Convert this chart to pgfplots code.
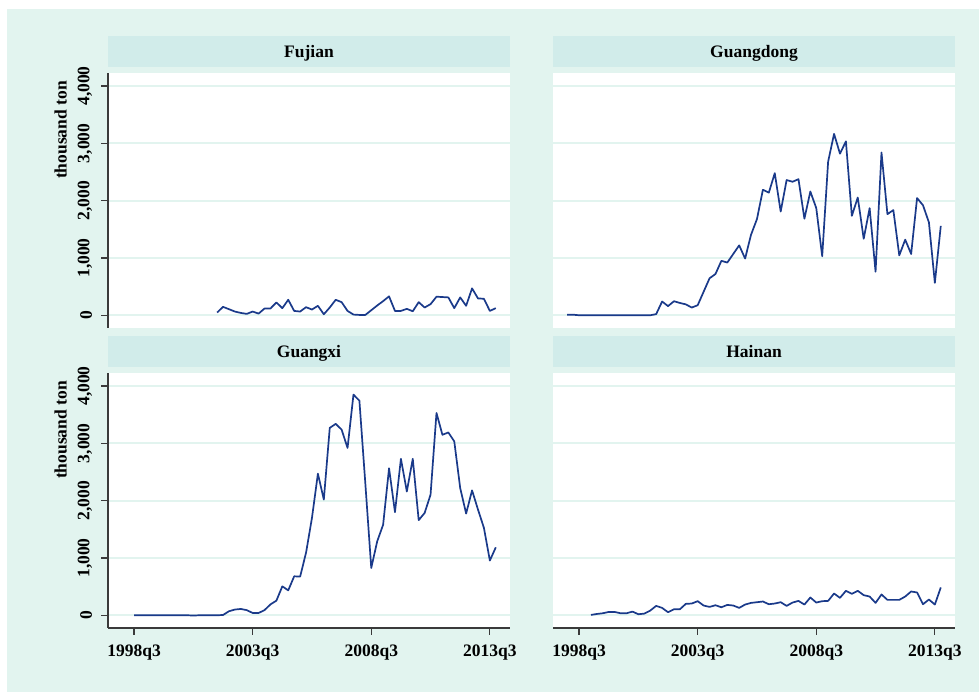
\documentclass[border=0pt]{standalone}
\usepackage{fontspec}
\setmainfont{Liberation Serif}
\usepackage{pgfplots}
\pgfplotsset{compat=1.18}
\definecolor{bgmint}{HTML}{E2F4EF}
\definecolor{stripc}{HTML}{D1ECEA}
\definecolor{gridc}{HTML}{E2F4EF}
\definecolor{axc}{HTML}{3A3A3A}
\definecolor{linec}{HTML}{1A3A8A}
\newcommand{\lbl}{\fontsize{17.5}{20}\selectfont\bfseries}
\tikzset{serie/.style={draw=linec, line width=1.7pt, line join=round, mark=none}}
\pgfplotsset{
  panel/.style={
    scale only axis, width=402pt, height=255pt,
    xmin=-4.4, xmax=63.4, ymin=-222, ymax=4228,
    axis background/.style={fill=white},
    ytick={0,1000,2000,3000,4000},
    xtick={0,20,40,60},
    xticklabels={1998q3,2003q3,2008q3,2013q3},
    /pgf/number format/fixed,
    /pgf/number format/1000 sep={,},
    /pgf/number format/assume math mode=true,
    ymajorgrids,
    major grid style={color=gridc, line width=1.8pt},
    tick align=outside, major tick length=7pt,
    tick style={color=axc, line width=1.2pt},
    separate axis lines,
    axis x line*=bottom, axis y line*=left,
    x axis line style={-, color=axc, line width=1.4pt},
    y axis line style={-, color=axc, line width=1.4pt},
    tick label style={font=\lbl},
    yticklabel style={rotate=90, anchor=south, inner sep=0pt, outer sep=9pt},
    xticklabel style={anchor=north, inner sep=0pt, outer sep=10pt},
    title style={at={(0.5,1)}, anchor=south, yshift=0pt, fill=stripc,
      minimum width=402pt, minimum height=31pt, inner sep=0pt,
      text height=12pt, text depth=0pt, font=\lbl},
    ylabel style={at={(axis description cs:-0.1177,0.776)}, anchor=center, font=\lbl},
  },
  toprow/.style={xtick=\empty, x axis line style={draw=none}},
  rightcol/.style={yticklabels={}, ytick style={draw=none}, y axis line style={draw=none}},
}
\begin{document}
\begin{tikzpicture}
\fill[white] (0pt,0pt) rectangle (979pt,692pt);
\path[use as bounding box] (0pt,0pt) rectangle (979pt,692pt);
\fill[bgmint] (7pt,0pt) rectangle (979pt,683pt);

% Fujian
\begin{axis}[panel, toprow, at={(108pt,364pt)}, anchor=south west,
  title={Fujian}, ylabel={thousand ton}]
\addplot[serie] coordinates {
(14,47) (15,147) (16,106) (17,65) (18,41) (19,24) (20,65) (21,29) (22,118) (23,118)
(24,224) (25,124) (26,270) (27,76) (28,65) (29,141) (30,100) (31,165) (32,18) (33,135)
(34,270) (35,229) (36,76) (37,12) (38,6) (39,6) (40,88) (41,170) (42,247) (43,330)
(44,76) (45,76) (46,112) (47,70) (48,229) (49,135) (50,194) (51,324) (52,318) (53,312)
(54,124) (55,312) (56,165) (57,470) (58,294) (59,288) (60,76) (61,124)};
\end{axis}

% Guangdong
\begin{axis}[panel, toprow, rightcol, at={(553pt,364pt)}, anchor=south west,
  title={Guangdong}]
\addplot[serie] coordinates {
(-2,10) (-1,10) (0,0) (1,0) (2,0) (3,0) (4,0) (5,0) (6,0) (7,0) (8,0) (9,0) (10,0) (11,0) (12,0)
(13,20) (14,240) (15,160) (16,245) (17,215) (18,190) (19,135) (20,175) (21,410) (22,645)
(23,720) (24,950) (25,920) (26,1070) (27,1220) (28,990) (29,1405) (30,1680) (31,2190)
(32,2140) (33,2480) (34,1810) (35,2360) (36,2330) (37,2375) (38,1685) (39,2160) (40,1870)
(41,1030) (42,2680) (43,3165) (44,2820) (45,3035) (46,1735) (47,2055) (48,1335) (49,1870)
(50,760) (51,2840) (52,1765) (53,1835) (54,1045) (55,1320) (56,1070) (57,2045) (58,1920)
(59,1620) (60,565) (61,1560)};
\end{axis}

% Guangxi
\begin{axis}[panel, at={(108pt,64pt)}, anchor=south west,
  title={Guangxi}, ylabel={thousand ton}]
\addplot[serie] coordinates {
(0,0) (1,0) (2,0) (3,0) (4,0) (5,0) (6,0) (7,0) (8,0) (9,0) (10,-5) (11,0) (12,0) (13,0)
(14,0) (15,5) (16,70) (17,100) (18,110) (19,90) (20,40) (21,40) (22,90) (23,190) (24,255)
(25,505) (26,435) (27,680) (28,675) (29,1090) (30,1700) (31,2470) (32,2020) (33,3270)
(34,3340) (35,3240) (36,2920) (37,3850) (38,3745) (39,2300) (40,825) (41,1290) (42,1580)
(43,2565) (44,1800) (45,2730) (46,2160) (47,2730) (48,1660) (49,1785) (50,2105) (51,3530)
(52,3150) (53,3190) (54,3035) (55,2220) (56,1775) (57,2180) (58,1845) (59,1525) (60,955)
(61,1185)};
\end{axis}

% Hainan
\begin{axis}[panel, rightcol, at={(553pt,64pt)}, anchor=south west,
  title={Hainan}]
\addplot[serie] coordinates {
(2,6) (3,23) (4,35) (5,58) (6,58) (7,35) (8,35) (9,64) (10,18) (11,29) (12,82) (13,164)
(14,129) (15,53) (16,105) (17,105) (18,199) (19,205) (20,246) (21,170) (22,146) (23,175)
(24,140) (25,181) (26,170) (27,129) (28,187) (29,216) (30,228) (31,240) (32,193) (33,205)
(34,228) (35,164) (36,222) (37,251) (38,187) (39,310) (40,222) (41,246) (42,251) (43,380)
(44,304) (45,427) (46,374) (47,427) (48,351) (49,327) (50,216) (51,363) (52,269) (53,269)
(54,269) (55,327) (56,415) (57,398) (58,193) (59,275) (60,187) (61,485)};
\end{axis}
\end{tikzpicture}
\end{document}
